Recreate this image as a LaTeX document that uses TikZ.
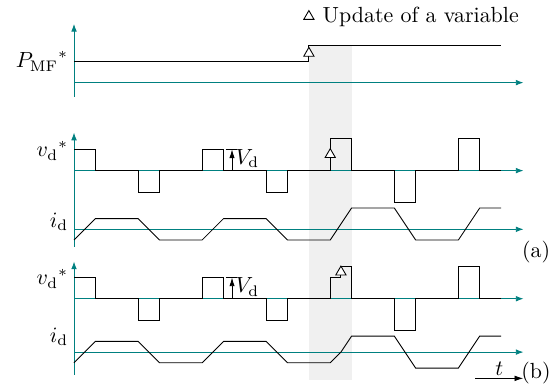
\documentclass[tikz,border=0pt]{standalone}
\usepackage{tikz}
\usetikzlibrary{arrows.meta,positioning,shapes.geometric}
\usepackage{xcolor}
\usepackage{amsmath}

\tikzset{
  axis/.style={teal, -{Latex[length=3.5pt,width=2.6pt]}},
  sig/.style={black},
  upd/.style={draw=black, fill=white, regular polygon, regular polygon sides=3, inner sep=0pt, minimum size=5.4pt},
  lbl/.style={left, inner sep=2.5pt},
}

\begin{document}
\begin{tikzpicture}[x=0.3426cm, y=0.3426cm, line width=0.4pt]
\useasboundingbox (-3.466,0) rectangle (22.76,18.17);

% interval in which the variable is updated
\fill[black!6] (11,0.375) rectangle (13,16.07);

% reference power
\begin{scope}[shift={(0,14.30)}]
\coordinate (P-o) at (0,0);
\coordinate (P-b) at (0,-0.66);
\coordinate (P-t) at (0,2.75);
\coordinate (P-e) at (21.05,0);
\draw[axis] (P-b) -- (P-t);
\draw[axis] (P-o) -- (P-e);
\draw[sig] (0,1) -- (11,1) -- (11,1.75) -- (20,1.75);
\node[upd] (updP) at (11,1.375) {};
\node[lbl] (lblP) at (0,1) {${P_{\mathrm{MF}}}^{*}$};
\end{scope}

% legend
\node[upd] (legmark) at (11,17.40) {};
\node[right=1pt of legmark] (legtext) {Update of a variable};

% case (a)
\begin{scope}[shift={(0,10.18)}]
\coordinate (a-b) at (0,-3.56);
\coordinate (a-t) at (0,1.78);
\coordinate (a-v) at (0,0);
\coordinate (a-ve) at (21.05,0);
\coordinate (a-i) at (0,-2.75);
\coordinate (a-ie) at (21.05,-2.75);
\draw[axis] (a-b) -- (a-t);
\draw[axis] (a-v) -- (a-ve);
\draw[axis] (a-i) -- (a-ie);
\draw[sig] (0,1) -- (1,1) -- (1,0) -- (3,0) -- (3,-1) -- (4,-1) -- (4,0) -- (6,0) -- (6,1) -- (7,1) -- (7,0)
  -- (9,0) -- (9,-1) -- (10,-1) -- (10,0) -- (12,0) -- (12,1.5) -- (13,1.5) -- (13,0) -- (15,0)
  -- (15,-1.5) -- (16,-1.5) -- (16,0) -- (18,0) -- (18,1.5) -- (19,1.5) -- (19,0) -- (20,0);
\begin{scope}[shift={(0,-2.75)}]
\draw[sig] (0,-0.5) -- (1,0.5) -- (3,0.5) -- (4,-0.5) -- (6,-0.5) -- (7,0.5) -- (9,0.5) -- (10,-0.5)
  -- (12,-0.5) -- (13,1) -- (15,1) -- (16,-0.5) -- (18,-0.5) -- (19,1) -- (20,1);
\end{scope}
\node[upd] (upda) at (12,0.75) {};
\coordinate (a-V0) at (7.4,0);
\coordinate (a-V1) at (7.4,1);
\draw (7.1,1) -- (7.65,1);
\draw[-{Latex[length=4pt,width=2.4pt]}] (a-V0) -- (a-V1);
\node[right, inner sep=1pt] (lblVa) at (7.45,0.55) {$V_{\mathrm{d}}$};
\node[lbl] (lblva) at (0,0.92) {${v_{\mathrm{d}}}^{*}$};
\node[lbl] (lblia) at (0,-2.41) {$i_{\mathrm{d}}$};
\node (lbla) at (21.64,-3.80) {(a)};
\end{scope}

% case (b)
\begin{scope}[shift={(0,4.18)}]
\coordinate (b-b) at (0,-3.57);
\coordinate (b-t) at (0,1.74);
\coordinate (b-v) at (0,0);
\coordinate (b-ve) at (21.05,0);
\coordinate (b-i) at (0,-2.5);
\coordinate (b-ie) at (21.05,-2.5);
\draw[axis] (b-b) -- (b-t);
\draw[axis] (b-v) -- (b-ve);
\draw[axis] (b-i) -- (b-ie);
\draw[sig] (0,1) -- (1,1) -- (1,0) -- (3,0) -- (3,-1) -- (4,-1) -- (4,0) -- (6,0) -- (6,1) -- (7,1) -- (7,0)
  -- (9,0) -- (9,-1) -- (10,-1) -- (10,0) -- (12,0) -- (12,1) -- (12.5,1) -- (12.5,1.5) -- (13,1.5) -- (13,0)
  -- (15,0) -- (15,-1.5) -- (16,-1.5) -- (16,0) -- (18,0) -- (18,1.5) -- (19,1.5) -- (19,0) -- (20,0);
\begin{scope}[shift={(0,-2.5)}]
\draw[sig] (0,-0.5) -- (1,0.5) -- (3,0.5) -- (4,-0.5) -- (6,-0.5) -- (7,0.5) -- (9,0.5) -- (10,-0.5)
  -- (12,-0.5) -- (12.5,0) -- (13,0.75) -- (15,0.75) -- (16,-0.75) -- (18,-0.75) -- (19,0.75) -- (20,0.75);
\end{scope}
\node[upd] (updb) at (12.5,1.25) {};
\coordinate (b-V0) at (7.4,0);
\coordinate (b-V1) at (7.4,1);
\draw (7.1,1) -- (7.65,1);
\draw[-{Latex[length=4pt,width=2.4pt]}] (b-V0) -- (b-V1);
\node[right, inner sep=1pt] (lblVb) at (7.45,0.55) {$V_{\mathrm{d}}$};
\node[lbl] (lblvb) at (0,0.93) {${v_{\mathrm{d}}}^{*}$};
\node[lbl] (lblib) at (0,-1.77) {$i_{\mathrm{d}}$};
\node (lblb) at (21.64,-3.48) {(b)};
\coordinate (t-s) at (18.8,-3.73);
\coordinate (t-e) at (21.04,-3.73);
\draw[-{Latex[length=4pt,width=2.6pt]}] (t-s) -- node[above, inner sep=1pt] (lblt) {$t$} (t-e);
\end{scope}

\end{tikzpicture}
\end{document}
